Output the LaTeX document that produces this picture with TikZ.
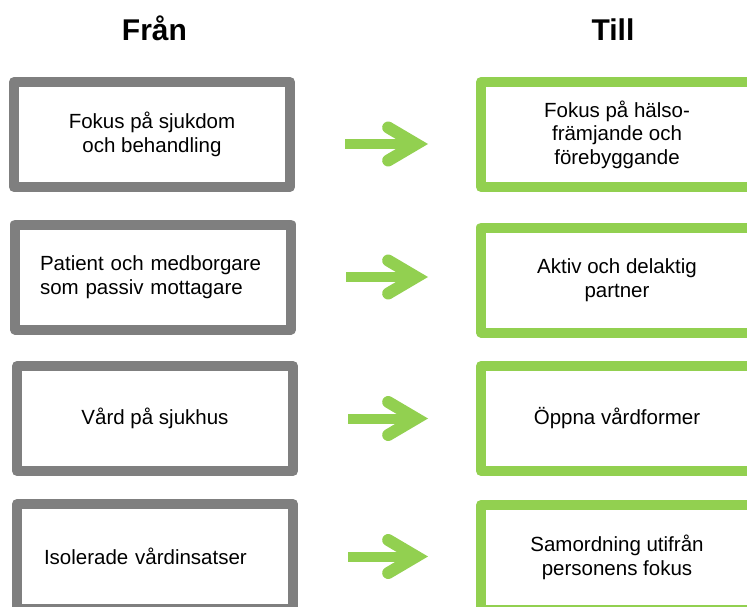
\documentclass[tikz,border=0pt]{standalone}
\usepackage{fontspec}
\setmainfont{Liberation Sans}
\usetikzlibrary{calc}
\usetikzlibrary{arrows.meta}

\definecolor{frangra}{HTML}{7F7F7F}
\definecolor{tillgron}{HTML}{92D050}

\begin{document}
\begin{tikzpicture}[x=1pt, y=-1pt,
    box/.style={draw, line width=10pt, line join=round, minimum height=105pt,
      inner sep=0pt, align=center, font=\fontsize{20.5}{23.5}\selectfont},
    fran/.style={box, draw=frangra, minimum width=276pt},
    till/.style={box, draw=tillgron, minimum width=272pt},
    rubrik/.style={anchor=base, font=\fontsize{30}{36}\selectfont\bfseries},
    pil/.style={tillgron, line width=10pt, shorten <=50pt, shorten >=48pt,
      -{Straight Barb[length=28pt, width=33pt, line width=12pt, line cap=round, line join=miter]}}]

    \path[use as bounding box, fill=white] (0, 0) rectangle (747, 607);
    \clip (0, 0) rectangle (747, 607);

    \node [rubrik] (fran) at (154.5, 41) {Från};
    \node [rubrik] (till) at (613, 41) {Till};

    \node [fran] (L1) at (152, 134.5) {Fokus på sjukdom\\och behandling};
    \node [fran, text width=226pt, align=left] (L2) at (153, 277) {Patient och medborgare\\som passiv mottagare};
    \node [fran] (L3) at (155, 418.5) {Vård på sjukhus};
    \node [fran, text width=222pt, align=left] (L4) at (155, 556.5) {Isolerade vårdinsatser};

    \node [till] (R1) at (617, 134.5) {Fokus på hälso-\\främjande och\\förebyggande};
    \node [till] (R2) at (617, 280) {Aktiv och delaktig\\partner};
    \node [till] (R3) at (617, 418.5) {Öppna vårdformer};
    \node [till] (R4) at (617, 557.5) {Samordning utifrån\\personens fokus};

    \draw[pil] ($(L1.east)+(0, 9.5)$) -- ($(R1.west)+(0, 9.5)$);
    \draw[pil] (L2.east) -- (L2.east -| R2.west);
    \draw[pil] (L3.east) -- (L3.east -| R3.west);
    \draw[pil] (L4.east) -- (L4.east -| R4.west);
  \end{tikzpicture}
\end{document}
